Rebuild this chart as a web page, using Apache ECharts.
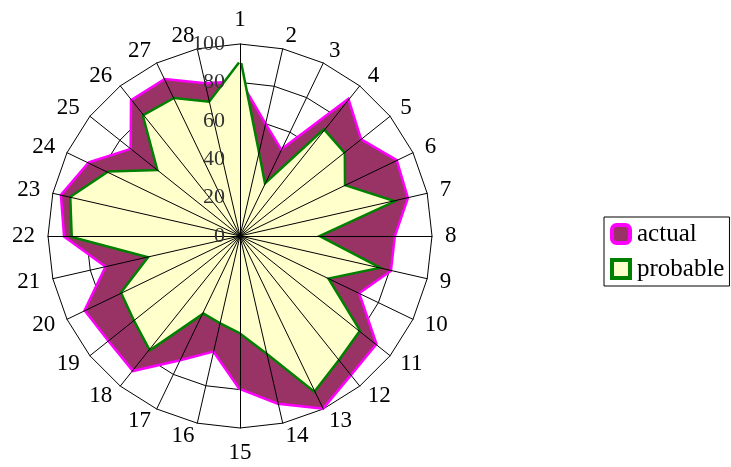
<!DOCTYPE html>
<html><head><meta charset="utf-8">
<script src="https://cdn.jsdelivr.net/npm/echarts@6/dist/echarts.min.js"></script>
<style>html,body{margin:0;padding:0;background:#fff}#c{width:731px;height:467px}</style>
</head><body><div id="c"></div>
<script>
const categories = ['1','2','3','4','5','6','7','8','9','10','11','12','13','14','15','16','17','18','19','20','21','22','23','24','25','26','27','28'];
const actual =   [80,59,49,90,80,90,89,80,80,68,90,92,99,89,79,61,71,89,87,89,71,91,95,87,72,90,90,81];
const probable = [90,43,29,70,69,60,81,40,73,50,79,82,89,62,50,46,44,75,70,68,48,87,90,76,54,80,79,71];
const tickLabels = ['0','20','40','60','80','100'];

// ECharts lays radar indicators out counter-clockwise; reorder so they run clockwise
const order = [0];
for (let k = categories.length - 1; k >= 1; k--) order.push(k);
const reorder = arr => order.map(k => arr[k]);

const FONT = 'Liberation Serif';
const indBase = order.map(k => ({ name: categories[k], min: 0, max: 100 }));
const indTop = order.map((k, j) => ({ name: categories[k], min: 0, max: 100,
  axisLabel: { show: j === 0 } }));

const chart = echarts.init(document.getElementById('c'), null, { renderer: 'canvas' });
chart.setOption({
  backgroundColor: '#fff',
  animation: false,
  legend: {
    orient: 'vertical', left: 604, top: 217,
    padding: [4, 5, 4, 6], itemGap: 9, itemWidth: 18, itemHeight: 18,
    borderColor: '#000', borderWidth: 1,
    textStyle: { fontFamily: FONT, fontSize: 25, color: '#000', lineHeight: 26, padding: [0, 0, 0, 2] },
    data: [
      { name: 'actual', icon: 'roundRect', itemStyle: { color: '#993366', borderColor: '#FF00FF', borderWidth: 4 } },
      { name: 'probable', icon: 'rect', itemStyle: { color: '#FFFFCC', borderColor: '#008000', borderWidth: 4 } }
    ]
  },
  radar: [
    {
      center: [240, 236], radius: 192, splitNumber: 5, shape: 'polygon',
      indicator: indBase,
      axisName: { color: '#000', fontFamily: FONT, fontSize: 23 },
      nameGap: 13,
      splitLine: { lineStyle: { color: '#000', width: 1 } },
      splitArea: { show: false },
      axisLine: { show: false },
      axisTick: { show: false },
      axisLabel: { show: false }
    },
    {
      center: [240, 236], radius: 192, splitNumber: 5, shape: 'polygon', z: 10,
      indicator: indTop,
      axisName: { show: false },
      splitLine: { show: false },
      splitArea: { show: false },
      axisLine: { lineStyle: { color: '#000', width: 1 } },
      axisTick: { show: false },
      axisLabel: { show: false, color: '#333', fontFamily: FONT, fontSize: 22, margin: 15,
        formatter: v => tickLabels[Math.round(v / 20)] }
    }
  ],
  series: [{
    type: 'radar', radarIndex: 0, symbol: 'none', z: 2,
    data: [
      { name: 'actual', value: reorder(actual),
        lineStyle: { color: '#FF00FF', width: 5, join: 'miter' },
        itemStyle: { color: '#FF00FF' },
        areaStyle: { color: '#993366', opacity: 1 } },
      { name: 'probable', value: reorder(probable),
        lineStyle: { color: '#008000', width: 5, join: 'miter' },
        itemStyle: { color: '#008000' },
        areaStyle: { color: '#FFFFCC', opacity: 1 } }
    ]
  }]
});
</script></body></html>
